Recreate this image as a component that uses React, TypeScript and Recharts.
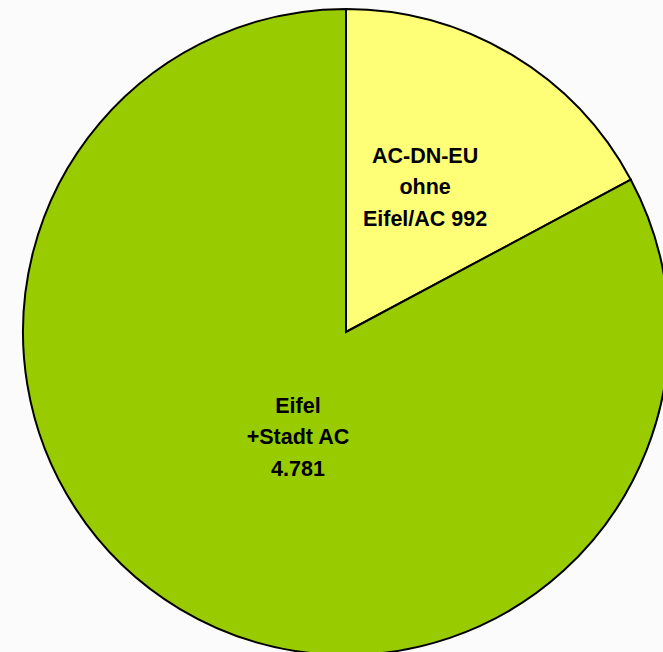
import React from "react";
import { PieChart, Pie, Cell } from "recharts";

const categories: string[] = ["AC-DN-EU ohne Eifel/AC", "Eifel +Stadt AC"];
const values: number[] = [992, 4781];
const labelLines: string[][] = [
  ["AC-DN-EU", "ohne", "Eifel/AC 992"],
  ["Eifel", "+Stadt AC", "4.781"],
];
const colors: string[] = ["#FFFF77", "#99CC00"];

const data = categories.map((name, i) => ({ name, value: values[i] }));

// label placement (radius fraction, angle tweak in degrees)
const labelPlace = [
  { r: 0.511, da: 2.3 },
  { r: 0.358, da: 6.4 },
];

const RAD = Math.PI / 180;

const renderLabel = (props: any) => {
  const { cx, cy, midAngle, outerRadius, index } = props;
  const p = labelPlace[index];
  const a = (midAngle + p.da) * RAD;
  const r = outerRadius * p.r;
  const x = cx + r * Math.cos(a);
  const y = cy - r * Math.sin(a);
  const lines = labelLines[index];
  const lh = 31.5;
  const y0 = y - ((lines.length - 1) * lh) / 2;
  return (
    <text
      x={x}
      y={y0}
      textAnchor="middle"
      dominantBaseline="central"
      fill="#000"
      fontFamily="'Liberation Sans', Arial, sans-serif"
      fontWeight="bold"
      fontSize={21.5}
    >
      {lines.map((l, i) => (
        <tspan key={i} x={x} y={y0 + i * lh} dominantBaseline="central">
          {l}
        </tspan>
      ))}
    </text>
  );
};

export default function App() {
  return (
    <div
      style={{
        position: "fixed",
        left: 0,
        top: 0,
        width: 663,
        height: 652,
        background: "#FBFBFB",
        overflow: "hidden",
      }}
    >
      <PieChart width={663} height={652} margin={{ top: 0, right: 0, bottom: 0, left: 0 }}>
        <Pie
          data={data}
          dataKey="value"
          nameKey="name"
          cx={346}
          cy={332}
          outerRadius={323}
          startAngle={90}
          endAngle={-270}
          stroke="#000"
          strokeWidth={2}
          label={renderLabel}
          labelLine={false}
          isAnimationActive={false}
        >
          {data.map((d, i) => (
            <Cell key={d.name} fill={colors[i]} />
          ))}
        </Pie>
      </PieChart>
    </div>
  );
}
